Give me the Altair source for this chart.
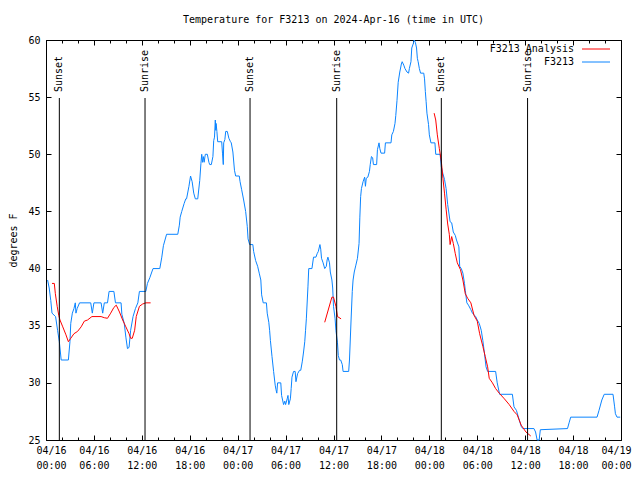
import altair as alt
import pandas as pd

# ---- F3213 observed temperature (hours since 2024-04-16 00:00 UTC, deg F)
blue_hours = [0.2, 0.4, 0.6, 0.75, 1.2, 1.45, 1.67, 1.9, 2.8, 3.0, 3.1, 3.3, 3.5, 3.67, 3.75, 3.9, 4.2, 5.6, 5.8, 6.0,
              6.9, 7.1, 7.3, 7.7, 7.9, 8.5, 8.7, 9.4, 9.5, 9.8, 10.0, 10.2, 10.4, 10.6, 10.9, 11.2, 11.5, 11.7, 12.5,
              12.7, 13.0, 13.4, 14.25, 14.5, 14.7, 15.1, 16.5, 16.7, 16.8, 17.0, 17.3, 17.5, 17.6, 17.9, 18.1, 18.3,
              18.5, 18.7, 19.0, 19.25, 19.4, 19.5, 19.6, 19.7, 19.8, 19.95, 20.2, 20.4, 20.5, 20.7, 20.9, 21.0, 21.1,
              21.2, 21.25, 21.3, 21.4, 21.5, 22.0, 22.1, 22.2, 22.25, 22.4, 22.5, 22.7, 22.9, 23.1, 23.2, 23.4, 23.6,
              23.75, 24.2, 24.3, 24.5, 24.75, 25.0, 25.2, 25.3, 25.5, 25.9, 26.0, 26.25, 26.5, 26.7, 26.9, 27.0, 27.2,
              27.6, 27.7, 27.9, 28.0, 28.1, 28.3, 28.5, 28.7, 28.8, 28.9, 29.0, 29.4, 29.5, 29.75, 29.9, 30.0, 30.2,
              30.3, 30.4, 30.6, 30.7, 30.8, 31.0, 31.2, 31.3, 31.5, 31.75, 31.9, 32.1, 32.25, 32.4, 32.5, 32.6, 32.8,
              32.9, 33.3, 33.5, 33.8, 33.95, 34.1, 34.3, 34.4, 34.5, 34.7, 34.9, 35.1, 35.2, 35.3, 35.5, 35.6, 35.8,
              35.9, 36.0, 36.2, 36.3, 36.5, 36.6, 36.75, 36.9, 37.1, 37.2, 37.9, 38.0, 38.2, 38.35, 38.45, 38.6, 38.8,
              39.0, 39.2, 39.3, 39.4, 39.5, 39.7, 39.9, 40.0, 40.1, 40.3, 40.5, 40.6, 40.75, 40.9, 41.0, 41.4, 41.5,
              41.7, 41.8, 41.95, 42.4, 42.5, 43.2, 43.3, 43.5, 43.7, 43.8, 43.95, 44.1, 44.3, 44.5, 44.6, 44.8, 44.95,
              45.2, 45.4, 45.5, 45.7, 45.8, 46.0, 46.1, 46.25, 46.4, 46.5, 46.6, 46.75, 46.9, 47.3, 47.4, 47.5, 47.6,
              47.7, 47.9, 48.0, 48.2, 48.7, 48.8, 49.35, 49.5, 49.7, 49.9, 50.1, 50.3, 50.5, 50.6, 50.8, 51.0, 51.25,
              51.4, 51.7, 51.8, 52.0, 52.2, 52.4, 52.5, 52.7, 52.9, 53.2, 53.4, 53.8, 54.0, 54.25, 54.5, 54.7, 54.9,
              55.1, 55.3, 56.3, 56.5, 56.8, 58.4, 58.6, 58.9, 59.2, 59.5, 59.7, 61.1, 61.3, 61.5, 61.75, 61.9, 65.3,
              65.5, 65.7, 69.0, 69.25, 69.6, 69.9, 71.0, 71.2, 71.3, 71.5, 71.9]
blue_temps = [39.0, 38.3, 37.2, 36.1, 35.8, 34.6, 33.6, 32.0, 32.0, 33.6, 35.2, 36.1, 36.5, 37.0, 36.1, 36.5, 37.0, 37.0, 36.1, 37.0,
              37.0, 36.1, 37.0, 37.0, 38.0, 38.0, 37.0, 37.0, 36.0, 35.2, 34.0, 33.0, 33.1, 34.6, 35.8, 36.5, 37.0, 38.0, 38.0,
              38.7, 39.2, 40.0, 40.0, 41.0, 42.0, 43.0, 43.0, 43.8, 44.5, 45.0, 45.7, 46.1, 46.1, 47.2, 48.1, 47.6,
              46.6, 46.1, 46.1, 47.7, 49.2, 50.0, 49.3, 49.8, 49.3, 50.0, 50.0, 49.3, 49.1, 49.1, 49.8, 51.2, 51.5,
              53.0, 52.1, 52.7, 52.0, 51.1, 51.1, 50.1, 49.1, 51.0, 51.3, 52.0, 52.0, 51.4, 51.1, 51.0, 50.2, 48.6,
              48.1, 48.1, 47.6, 46.9, 46.0, 45.0, 43.7, 42.6, 42.1, 42.1, 41.5, 40.7, 40.2, 39.6, 39.0, 37.7, 37.0,
              37.0, 36.1, 35.3, 34.6, 33.7, 32.3, 31.0, 29.8, 29.4, 29.1, 30.0, 30.0, 28.9, 28.1, 28.4, 28.1, 28.6,
              28.9, 28.1, 28.6, 29.5, 30.5, 31.0, 31.0, 30.1, 30.8, 31.1, 31.1, 31.9, 32.7, 33.6, 34.6, 35.6, 38.4,
              40.0, 40.0, 41.0, 41.0, 41.3, 41.5, 42.1, 41.7, 40.9, 40.5, 40.0, 40.2, 40.75, 41.0, 40.5, 39.7, 39.0,
              38.3, 36.7, 35.6, 34.6, 33.5, 32.4, 32.0, 32.0, 31.6, 31.0, 31.0, 32.0, 35.5, 38.0, 39.0, 39.7, 40.3,
              40.9, 42.2, 44.5, 46.3, 47.0, 47.6, 48.0, 47.2, 47.9, 48.0, 48.5, 49.1, 49.8, 49.7, 49.1, 49.1, 50.4,
              51.0, 50.5, 50.1, 50.1, 51.0, 51.0, 51.7, 52.0, 52.7, 53.4, 54.7, 56.3, 57.2, 57.9, 58.1, 57.8, 57.5,
              57.2, 57.1, 57.5, 58.1, 59.3, 59.7, 60.0, 59.8, 59.3, 58.4, 58.1, 57.5, 57.1, 57.1, 56.6, 55.5, 54.6,
              53.6, 52.6, 51.7, 51.0, 51.0, 50.0, 50.0, 48.9, 48.3, 47.8, 47.0, 45.6, 44.6, 44.1, 44.0, 43.2, 42.9,
              42.5, 41.9, 40.2, 40.0, 39.6, 38.7, 38.1, 37.0, 36.8, 36.4, 36.1, 35.8, 35.5, 35.2, 34.6, 33.7, 32.6,
              31.4, 31.0, 31.0, 30.0, 29.0, 29.0, 27.9, 27.6, 26.9, 26.2, 26.0, 26.0, 25.7, 25.0, 25.0, 25.9, 26.0,
              26.5, 27.0, 27.0, 27.6, 28.5, 29.0, 29.0, 27.9, 27.3, 27.0, 27.0]

# ---- F3213 analysis (three separate runs)
red_hours = [0.75, 1.04, 1.17, 1.4, 1.6, 1.75, 2.1, 2.5, 2.8, 3.1, 3.5, 3.95, 4.4, 4.8, 5.2, 5.75, 6.9, 7.3, 7.7,
             8.1, 8.5, 8.8, 9.2, 9.6, 10.0, 10.4, 10.6, 10.8, 11.1, 11.3, 11.7, 12.1, 12.5, 13.1,
             34.9, 35.8, 36.0, 36.3, 36.5, 36.95,
             48.6, 48.8, 49.0, 49.25, 49.5, 49.7, 49.9, 50.1, 50.3, 50.5, 50.6, 50.8, 51.0, 51.25, 51.5, 51.9,
             52.2, 52.5, 52.8, 53.2, 53.6, 54.0, 54.3, 54.7, 55.0, 55.3, 55.5, 55.9, 56.3, 56.75, 57.4, 58.0,
             58.6, 59.0, 59.5, 60.1, 60.7]
red_temps = [38.7, 38.7, 37.8, 36.7, 35.9, 35.5, 34.9, 34.2, 33.6, 33.9, 34.3, 34.5, 34.9, 35.4, 35.5, 35.8, 35.8, 35.7, 35.65,
             36.1, 36.6, 36.8, 36.2, 35.5, 34.9, 34.3, 33.9, 33.9, 34.6, 35.8, 36.7, 36.9, 37.0, 37.0,
             35.3, 37.5, 37.5, 36.7, 35.8, 35.6,
             53.6, 53.0, 51.7, 50.5, 49.4, 47.9, 46.6, 45.2, 43.9, 43.0, 42.1, 42.8, 42.2, 41.3, 40.5, 39.9,
             39.0, 37.8, 37.4, 37.0, 35.9, 35.4, 34.3, 33.2, 32.3, 31.4, 30.4, 30.0, 29.5, 29.1, 28.6, 28.1,
             27.5, 27.2, 26.3, 25.7, 25.35]
red_runs = [1] * 34 + [2] * 6 + [3] * 37

# ---- sunrise / sunset markers
sun_hours = [1.67, 12.4, 25.55, 36.4, 49.5, 60.3]
sun_labels = ["Sunset", "Sunrise", "Sunset", "Sunrise", "Sunset", "Sunrise"]

# ---- axes
x_major = [0, 6, 12, 18, 24, 30, 36, 42, 48, 54, 60, 66, 72]
x_minor = list(range(0, 73, 2))
x_tick_labels = ["04/16 00:00", "04/16 06:00", "04/16 12:00", "04/16 18:00",
                 "04/17 00:00", "04/17 06:00", "04/17 12:00", "04/17 18:00",
                 "04/18 00:00", "04/18 06:00", "04/18 12:00", "04/18 18:00",
                 "04/19 00:00"]
y_ticks = [25, 30, 35, 40, 45, 50, 55, 60]

legend_names = ["F3213 Analysis", "F3213"]
BLUE = "#0a84ff"
RED = "#ff0000"
FONT = "DejaVu Sans Mono"
FS = 10

blue_df = pd.DataFrame({"h": blue_hours, "t": blue_temps})
red_df = pd.DataFrame({"h": red_hours, "t": red_temps, "run": red_runs})
sun_df = pd.DataFrame({"h": sun_hours, "label": sun_labels})

xs = alt.Scale(domain=[0, 72], nice=False, zero=False)
ys = alt.Scale(domain=[25, 60], nice=False, zero=False)

lab_arr = "[" + ",".join("'" + s + "'" for s in x_tick_labels) + "]"
label_expr = "split(" + lab_arr + "[round(datum.value/6)], ' ')"

common = dict(domain=False, grid=False, tickColor="black", labelColor="black",
              labelFont=FONT, labelFontSize=FS, title=None)

ax_bottom = alt.Axis(orient="bottom", values=x_major, tickSize=5, offset=-5,
                     labelExpr=label_expr, labelPadding=5, labelBaseline="top",
                     labelLineHeight=15, labelOverlap=False, labelFlush=True,
                     labelFlushOffset=10, labelAngle=0, **common)
ax_bottom_minor = alt.Axis(orient="bottom", values=x_minor, tickSize=3, offset=-3,
                           labels=False, **common)
ax_top = alt.Axis(orient="top", values=x_major, tickSize=5, offset=-5, labels=False, **common)
ax_top_minor = alt.Axis(orient="top", values=x_minor, tickSize=3, offset=-3, labels=False, **common)
ax_left = alt.Axis(orient="left", values=y_ticks, tickSize=5, offset=-5, labelPadding=6,
                   domain=False, grid=False, tickColor="black", labelColor="black",
                   labelFont=FONT, labelFontSize=FS, title="degrees F",
                   titleFont=FONT, titleFontSize=FS, titleFontWeight="normal",
                   titleColor="black", titlePadding=9)
ax_right = alt.Axis(orient="right", values=y_ticks, tickSize=5, offset=-5, labels=False, **common)

blue = alt.Chart(blue_df).mark_line(color=BLUE, strokeWidth=1).encode(
    x=alt.X("h:Q", scale=xs, axis=ax_bottom),
    y=alt.Y("t:Q", scale=ys, axis=ax_left),
)
red = alt.Chart(red_df).mark_line(color=RED, strokeWidth=1).encode(
    x=alt.X("h:Q", scale=xs, axis=ax_bottom_minor),
    y=alt.Y("t:Q", scale=ys, axis=ax_right),
    detail="run:N",
)
sun_rules = alt.Chart(sun_df).mark_rule(color="black", strokeWidth=1).encode(
    x=alt.X("h:Q", scale=xs, axis=ax_top),
    y=alt.value(58), y2=alt.value(400),
)
sun_text = alt.Chart(sun_df).mark_text(angle=270, align="left", baseline="middle",
                                       font=FONT, fontSize=FS, color="black").encode(
    x=alt.X("h:Q", scale=xs, axis=ax_top_minor),
    y=alt.value(52),
    text="label:N",
)

leg_df = pd.DataFrame({"name": legend_names})
leg_text1 = alt.Chart(leg_df).transform_filter(alt.datum.name == legend_names[0]).mark_text(
    align="right", baseline="middle", font=FONT, fontSize=FS, color="black").encode(
    x=alt.value(528), y=alt.value(9), text="name:N")
leg_text2 = alt.Chart(leg_df).transform_filter(alt.datum.name == legend_names[1]).mark_text(
    align="right", baseline="middle", font=FONT, fontSize=FS, color="black").encode(
    x=alt.value(528), y=alt.value(22), text="name:N")
leg_line1 = alt.Chart(leg_df).transform_filter(alt.datum.name == legend_names[0]).mark_rule(
    color=RED, strokeWidth=1).encode(x=alt.value(536), x2=alt.value(564), y=alt.value(9))
leg_line2 = alt.Chart(leg_df).transform_filter(alt.datum.name == legend_names[1]).mark_rule(
    color=BLUE, strokeWidth=1).encode(x=alt.value(536), x2=alt.value(564), y=alt.value(22))

chart = alt.layer(
    blue, red, sun_rules, sun_text, leg_text1, leg_text2, leg_line1, leg_line2
).resolve_axis(x="independent", y="independent").properties(
    width=575, height=400,
    autosize=alt.AutoSizeParams(type="none"),
    padding={"left": 38, "top": 32, "right": 11, "bottom": 32},
    title=alt.TitleParams("Temperature for F3213 on 2024-Apr-16 (time in UTC)",
                          font=FONT, fontSize=FS, fontWeight="normal", color="black",
                          anchor="middle", offset=10),
    background="white",
).configure_view(stroke="black", strokeWidth=1)

chart.save("out.html", embed_options={"renderer": "svg", "actions": False})
